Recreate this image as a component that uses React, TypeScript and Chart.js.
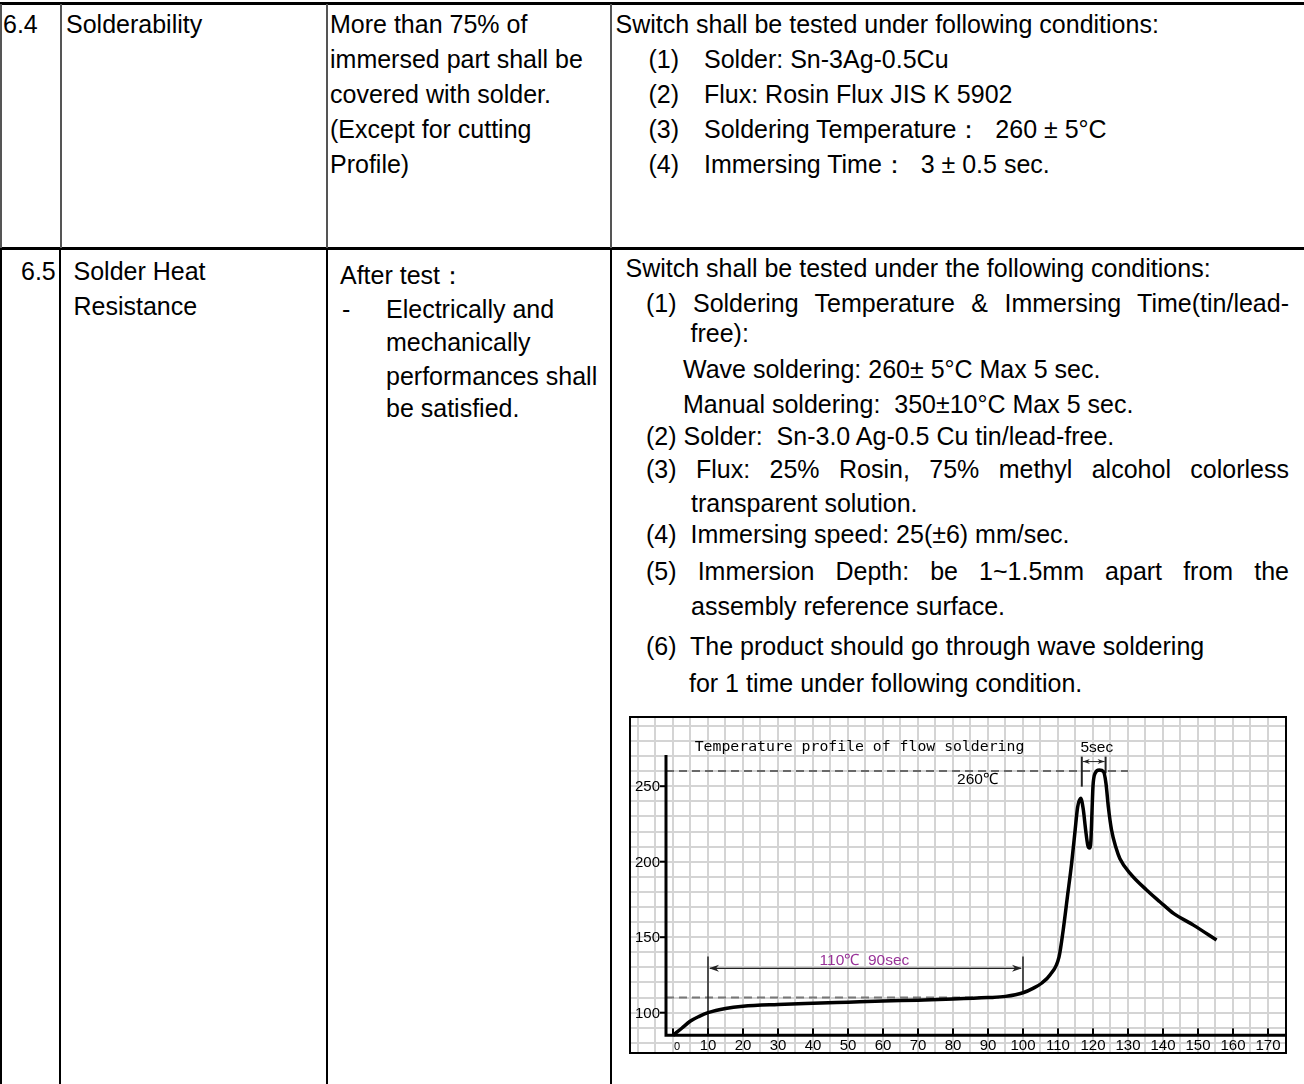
import React, { useEffect, useRef } from "react";
import { Chart, registerables } from "chart.js";

Chart.register(...registerables);

// ---- chart data ----
const timeSec = [0, 2.5, 5, 7.5, 10, 15, 20, 30, 40, 50, 60, 70, 80, 90, 95, 100, 103, 105.3, 107.7, 110.3, 111.5, 112.7, 113.9, 114.9, 115.6, 116.5, 117.2, 117.9, 118.5, 119.0, 119.4, 119.7, 120.0, 120.6, 121.8, 123.0, 123.7, 124.4, 125.3, 126.6, 127.7, 130.6, 135.3, 139.1, 143, 148.7, 155.3];
const tempC = [85, 89.7, 94.5, 97.6, 100, 102.8, 104.3, 105.5, 106.3, 107, 107.7, 108.3, 109, 110, 110.8, 113.2, 116.3, 119.5, 125, 137, 155, 177, 199, 221, 236, 242, 235, 221, 211, 209, 214, 232, 250, 258.5, 260.7, 259.6, 252, 236, 221, 209, 202, 192.3, 181.3, 173.5, 165.8, 158, 148.1];

const xTickValues = [0, 10, 20, 30, 40, 50, 60, 70, 80, 90, 100, 110, 120, 130, 140, 150, 160, 170];
const yTickValues = [100, 150, 200, 250];

const xRange = [-12, 174.86];
const yRange = [73.97, 295.17];
const axisOrigin = [-2, 85];
const yAxisTop = 270.7;

const titleText = "Temperature profile of flow soldering";
const titlePos = [6.2, 273.3];
const peakLabel = "260℃";
const peakLabelPos = [87, 251.5];
const peakLine = [260, -2, 130];
const dwellLine = [110, -2, 95];
const dwellLabel = "110℃  90sec";
const dwellLabelPos = [54.7, 131.5];
const dwellSpan = [10, 100];
const dwellArrowY = 129.4;
const dwellMarkTop = 137.2;
const dwellRightBottom = 113.2;
const peakSpanLabel = "5sec";
const peakSpanLabelPos = [121.1, 272.9];
const peakSpan = [116.8, 123.6];
const peakSpanTop = 269.6;
const peakSpanLeftBottom = 249.7;
const peakSpanRightBottom = 258.5;
const peakSpanArrowY = 266.3;

const overlay = {
  id: "overlay",
  beforeDatasetsDraw(chart: any) {
    const { ctx } = chart;
    const xs = chart.scales.x;
    const ys = chart.scales.y;
    const X = (v: number) => xs.getPixelForValue(v);
    const Y = (v: number) => ys.getPixelForValue(v);
    const seg = (x1: number, y1: number, x2: number, y2: number) => {
      ctx.beginPath();
      ctx.moveTo(x1, y1);
      ctx.lineTo(x2, y2);
      ctx.stroke();
    };
    const head = (x: number, y: number, dir: number, len: number, h: number) => {
      ctx.beginPath();
      ctx.moveTo(x, y);
      ctx.lineTo(x + dir * len, y - h);
      ctx.lineTo(x + dir * len * 0.7, y);
      ctx.lineTo(x + dir * len, y + h);
      ctx.closePath();
      ctx.fill();
    };
    ctx.save();
    // dashed reference lines
    ctx.setLineDash([8, 5]);
    ctx.lineWidth = 1.5;
    ctx.strokeStyle = "#444";
    seg(X(peakLine[1]), Y(peakLine[0]), X(peakLine[2]), Y(peakLine[0]));
    ctx.strokeStyle = "#777";
    ctx.lineWidth = 2;
    seg(X(dwellLine[1]), Y(dwellLine[0]), X(dwellLine[2]), Y(dwellLine[0]));
    ctx.setLineDash([]);

    // dwell marks
    ctx.strokeStyle = "#222";
    ctx.fillStyle = "#222";
    ctx.lineWidth = 1.5;
    seg(X(dwellSpan[0]), Y(dwellMarkTop), X(dwellSpan[0]), Y(axisOrigin[1]));
    seg(X(dwellSpan[1]), Y(dwellMarkTop), X(dwellSpan[1]), Y(dwellRightBottom));
    ctx.lineWidth = 1.2;
    seg(X(dwellSpan[0]) + 2, Y(dwellArrowY), X(dwellSpan[1]) - 2, Y(dwellArrowY));
    head(X(dwellSpan[0]) + 1, Y(dwellArrowY), 1, 10, 3.5);
    head(X(dwellSpan[1]) - 1, Y(dwellArrowY), -1, 10, 3.5);

    // 5 sec bracket
    ctx.lineWidth = 2;
    seg(X(peakSpan[0]), Y(peakSpanTop), X(peakSpan[0]), Y(peakSpanLeftBottom));
    seg(X(peakSpan[1]), Y(peakSpanTop), X(peakSpan[1]), Y(peakSpanRightBottom));
    ctx.lineWidth = 1;
    seg(X(peakSpan[0]) + 1, Y(peakSpanArrowY), X(peakSpan[1]) - 1, Y(peakSpanArrowY));
    head(X(peakSpan[0]) + 1, Y(peakSpanArrowY), 1, 7, 2.5);
    head(X(peakSpan[1]) - 1, Y(peakSpanArrowY), -1, 7, 2.5);

    // texts
    ctx.textBaseline = "alphabetic";
    ctx.fillStyle = "#000";
    ctx.font = '14.8px "DejaVu Sans Mono", "Liberation Mono", monospace';
    ctx.textAlign = "left";
    ctx.fillText(titleText, X(titlePos[0]), Y(titlePos[1]));
    ctx.font = '15.5px "Liberation Sans", Arial, sans-serif';
    ctx.textAlign = "center";
    ctx.fillText(peakSpanLabel, X(peakSpanLabelPos[0]), Y(peakSpanLabelPos[1]));
    ctx.fillText(peakLabel, X(peakLabelPos[0]), Y(peakLabelPos[1]));
    ctx.fillStyle = "#993399";
    ctx.fillText(dwellLabel, X(dwellLabelPos[0]), Y(dwellLabelPos[1]));
    ctx.restore();
  },
  afterDatasetsDraw(chart: any) {
    const { ctx } = chart;
    const xs = chart.scales.x;
    const ys = chart.scales.y;
    const X = (v: number) => xs.getPixelForValue(v);
    const Y = (v: number) => ys.getPixelForValue(v);
    const ox = X(axisOrigin[0]);
    const oy = Y(axisOrigin[1]);
    ctx.save();
    ctx.strokeStyle = "#000";
    ctx.fillStyle = "#000";
    ctx.lineWidth = 3;
    ctx.beginPath();
    ctx.moveTo(ox, Y(yAxisTop));
    ctx.lineTo(ox, oy);
    ctx.lineTo(X(xRange[1]), oy);
    ctx.stroke();
    ctx.lineWidth = 2;
    xTickValues.forEach((v) => {
      ctx.beginPath();
      ctx.moveTo(X(v), oy);
      ctx.lineTo(X(v), oy - 7);
      ctx.stroke();
    });
    yTickValues.forEach((v) => {
      ctx.beginPath();
      ctx.moveTo(ox - 6, Y(v));
      ctx.lineTo(ox, Y(v));
      ctx.stroke();
    });
    ctx.textBaseline = "alphabetic";
    ctx.textAlign = "center";
    xTickValues.forEach((v) => {
      ctx.font = v === 0 ? '11px "Liberation Sans", Arial, sans-serif' : '15px "Liberation Sans", Arial, sans-serif';
      ctx.fillText(String(v), X(v) + (v === 0 ? 4 : 0), oy + 15);
    });
    ctx.textAlign = "right";
    ctx.textBaseline = "middle";
    ctx.font = '15px "Liberation Sans", Arial, sans-serif';
    yTickValues.forEach((v) => {
      ctx.fillText(String(v), ox - 6, Y(v) + 1);
    });
    ctx.restore();
  },
};

function ProfileChart() {
  const ref = useRef<HTMLCanvasElement | null>(null);
  useEffect(() => {
    if (!ref.current) return;
    const chart = new Chart(ref.current, {
      type: "line",
      data: {
        datasets: [
          {
            data: timeSec.map((t, i) => ({ x: t, y: tempC[i] })),
            borderColor: "#000",
            borderWidth: 3.5,
            pointRadius: 0,
            cubicInterpolationMode: "monotone",
            fill: false,
          },
        ],
      },
      options: {
        animation: false,
        responsive: false,
        devicePixelRatio: 1,
        layout: { padding: 0 },
        plugins: { legend: { display: false }, tooltip: { enabled: false } },
        scales: {
          x: {
            type: "linear",
            min: xRange[0],
            max: xRange[1],
            ticks: { display: false, stepSize: 5, includeBounds: false },
            grid: { drawTicks: false, color: "#d4d4d4", lineWidth: 2 },
            border: { display: false },
          },
          y: {
            type: "linear",
            min: yRange[0],
            max: yRange[1],
            ticks: { display: false, stepSize: 10, includeBounds: false },
            grid: { drawTicks: false, color: "#d4d4d4", lineWidth: 2 },
            border: { display: false },
          },
        },
      },
      plugins: [overlay],
    } as any);
    return () => chart.destroy();
  }, []);
  return <canvas ref={ref} width={654} height={334} style={{ display: "block", width: 654, height: 334 }} />;
}

const FS = 25;
function T(props: { x: number; b: number; w?: number; children: any }) {
  const { x, b, w, children } = props;
  return (
    <div
      style={{
        position: "absolute",
        left: x,
        top: b - 21.16,
        fontSize: FS,
        lineHeight: FS + "px",
        whiteSpace: w ? "nowrap" : "pre",
        width: w,
        textAlign: w ? "justify" : "left",
        textAlignLast: w ? "justify" : undefined,
      } as any}
    >
      {children}
    </div>
  );
}

function Rule(props: { x: number; y: number; w: number; h: number; c: string }) {
  return <div style={{ position: "absolute", left: props.x, top: props.y, width: props.w, height: props.h, background: props.c }} />;
}

export default function App() {
  return (
    <div
      style={{
        position: "absolute",
        left: 0,
        top: 0,
        width: 1304,
        height: 1084,
        overflow: "hidden",
        background: "#fff",
        color: "#000",
        fontFamily: '"Liberation Sans", Arial, sans-serif',
      }}
    >
      {/* table rules */}
      <Rule x={0} y={2} w={1304} h={3} c="#000" />
      <Rule x={0} y={247} w={1304} h={3} c="#000" />
      <Rule x={0} y={4} w={2} h={244} c="#555" />
      <Rule x={60} y={4} w={2} h={244} c="#555" />
      <Rule x={326} y={4} w={2} h={244} c="#555" />
      <Rule x={610} y={4} w={2} h={244} c="#555" />
      <Rule x={0} y={249} w={2} h={835} c="#000" />
      <Rule x={59} y={249} w={2} h={835} c="#000" />
      <Rule x={326} y={249} w={2} h={835} c="#000" />
      <Rule x={610} y={249} w={2} h={835} c="#000" />

      {/* row 6.4 */}
      <T x={3} b={33}>6.4</T>
      <T x={66} b={33}>Solderability</T>
      <T x={330} b={33}>More than 75% of</T>
      <T x={330} b={68}>immersed part shall be</T>
      <T x={330} b={103}>covered with solder.</T>
      <T x={330} b={138}>(Except for cutting</T>
      <T x={330} b={173}>Profile)</T>
      <T x={615.5} b={33}>Switch shall be tested under following conditions:</T>
      <T x={648.5} b={68}>(1)</T>
      <T x={704} b={68}>Solder: Sn-3Ag-0.5Cu</T>
      <T x={648.5} b={103}>(2)</T>
      <T x={704} b={103}>Flux: Rosin Flux JIS K 5902</T>
      <T x={648.5} b={138}>(3)</T>
      <T x={704} b={138}>Soldering Temperature：  260 ± 5°C</T>
      <T x={648.5} b={173}>(4)</T>
      <T x={704} b={173}>Immersing Time：  3 ± 0.5 sec.</T>

      {/* row 6.5 */}
      <T x={21} b={280}>6.5</T>
      <T x={73.5} b={280}>Solder Heat</T>
      <T x={73.5} b={315}>Resistance</T>
      <T x={340} b={284}>After test：</T>
      <T x={342} b={318}>-</T>
      <T x={386} b={318}>Electrically and</T>
      <T x={386} b={351.5}>mechanically</T>
      <T x={386} b={385}>performances shall</T>
      <T x={386} b={417}>be satisfied.</T>

      <T x={625.5} b={277}>Switch shall be tested under the following conditions:</T>
      <T x={646} b={311.7} w={643}>(1) Soldering Temperature &amp; Immersing Time(tin/lead-</T>
      <T x={690.5} b={342}>free):</T>
      <T x={683} b={377.7}>Wave soldering: 260± 5°C Max 5 sec.</T>
      <T x={683} b={412.7}>Manual soldering:  350±10°C Max 5 sec.</T>
      <T x={646} b={445}>(2) Solder:  Sn-3.0 Ag-0.5 Cu tin/lead-free.</T>
      <T x={646} b={478} w={643}>(3) Flux: 25% Rosin, 75% methyl alcohol colorless</T>
      <T x={691} b={511.7}>transparent solution.</T>
      <T x={646} b={543}>(4)  Immersing speed: 25(±6) mm/sec.</T>
      <T x={646} b={580} w={643}>(5) Immersion Depth: be 1~1.5mm apart from the</T>
      <T x={691} b={615}>assembly reference surface.</T>
      <T x={646} b={655}>(6)  The product should go through wave soldering</T>
      <T x={689} b={691.7}>for 1 time under following condition.</T>

      {/* chart box */}
      <div
        style={{
          position: "absolute",
          left: 629,
          top: 716,
          width: 658,
          height: 338,
          border: "2px solid #000",
          boxSizing: "border-box",
          background: "#fff",
        }}
      >
        <ProfileChart />
      </div>
    </div>
  );
}
